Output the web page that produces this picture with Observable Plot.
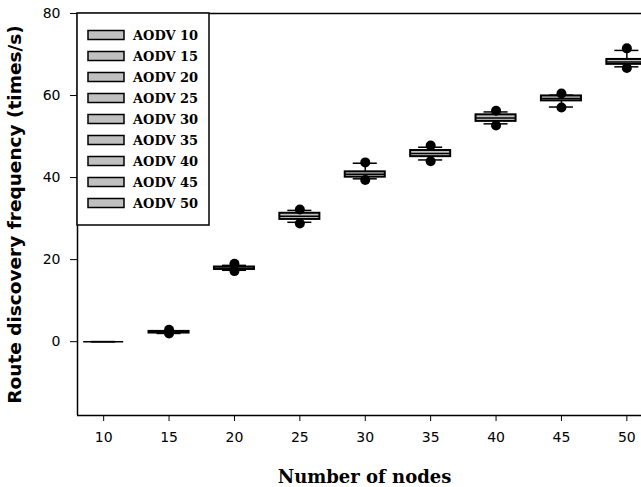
<!DOCTYPE html>
<html>
<head>
<meta charset="utf-8">
<script src="https://cdn.jsdelivr.net/npm/d3@7"></script>
<script src="https://cdn.jsdelivr.net/npm/@observablehq/plot@0.6"></script>
<style>
  html, body { margin: 0; padding: 0; background: #fff; }
  #chart svg { display: block; }
</style>
</head>
<body>
<div id="chart"></div>
<script>
// Data
const nodes      = [10, 15, 20, 25, 30, 35, 40, 45, 50];
const whiskerLo  = [0, 2.0, 17.4, 29.1, 39.7, 44.3, 53.1, 57.2, 67.0];
const q1         = [0, 2.1, 17.6, 29.8, 40.1, 45.1, 53.7, 58.7, 67.6];
const median     = [0, 2.3, 17.9, 30.6, 40.8, 45.9, 54.5, 59.3, 68.2];
const q3         = [0, 2.5, 18.2, 31.3, 41.4, 46.6, 55.3, 59.9, 68.8];
const whiskerHi  = [0, 2.6, 18.6, 32.0, 43.5, 47.4, 56.0, 60.1, 71.0];
const outlierLo  = [null, 2.0, 17.2, 28.8, 39.4, 44.0, 52.7, 57.1, 66.7];
const outlierHi  = [null, 2.9, 19.0, 32.2, 43.7, 47.8, 56.3, 60.5, 71.5];
const legendLabels = ["AODV 10", "AODV 15", "AODV 20", "AODV 25", "AODV 30", "AODV 35", "AODV 40", "AODV 45", "AODV 50"];
const yTicks = [0, 20, 40, 60, 80];
const xTicks = [10, 15, 20, 25, 30, 35, 40, 45, 50];
const yLabel = "Route discovery frequency (times/s)";
const xLabel = "Number of nodes";

const boxes = nodes.map((n, i) => ({
  n, wlo: whiskerLo[i], q1: q1[i], med: median[i], q3: q3[i], whi: whiskerHi[i]
}));
const outliers = [];
nodes.forEach((n, i) => {
  if (outlierLo[i] != null) outliers.push({n, v: outlierLo[i]});
  if (outlierHi[i] != null) outliers.push({n, v: outlierHi[i]});
});

const boxHalf = 1.53;
const capHalf = 0.92;

const plot = Plot.plot({
  width: 641,
  height: 487,
  marginLeft: 77,
  marginRight: 0,
  marginTop: 13,
  marginBottom: 72,
  style: { fontFamily: "'DejaVu Sans', sans-serif", fontSize: "14px", color: "#000", background: "#fff" },
  x: { domain: [8, 51.12] },
  y: { domain: [-18, 80] },
  marks: [
    Plot.axisY({ ticks: yTicks, tickSize: 7, tickPadding: 10, label: null, fontSize: 14, tickFormat: d => String(d) }),
    Plot.axisX({ ticks: xTicks, tickSize: 6, tickPadding: 11, label: null, fontSize: 14, tickFormat: d => String(d) }),
    // frame lines (left, bottom, top)
    Plot.ruleX([8], { stroke: "black", strokeWidth: 1.5 }),
    Plot.ruleY([-18, 80], { stroke: "black", strokeWidth: 1.5 }),
    // whiskers
    Plot.ruleX(boxes, { x: "n", y1: "q3", y2: "whi", stroke: "black", strokeWidth: 1.5 }),
    Plot.ruleX(boxes, { x: "n", y1: "wlo", y2: "q1", stroke: "black", strokeWidth: 1.5 }),
    Plot.ruleY(boxes, { y: "whi", x1: d => d.n - capHalf, x2: d => d.n + capHalf, stroke: "black", strokeWidth: 1.5 }),
    Plot.ruleY(boxes, { y: "wlo", x1: d => d.n - capHalf, x2: d => d.n + capHalf, stroke: "black", strokeWidth: 1.5 }),
    // boxes
    Plot.rect(boxes, { x1: d => d.n - boxHalf, x2: d => d.n + boxHalf, y1: "q1", y2: "q3", fill: "#c0c0c0", stroke: "black", strokeWidth: 2 }),
    Plot.ruleY(boxes, { y: "med", x1: d => d.n - boxHalf, x2: d => d.n + boxHalf, stroke: "black", strokeWidth: 1.5 }),
    // outliers
    Plot.dot(outliers, { x: "n", y: "v", r: 5, fill: "black", stroke: "none" }),
    // axis titles
    Plot.text([yLabel], { frameAnchor: "left", dx: -62, rotate: -90, textAnchor: "middle", fontSize: 18.5, fontWeight: "bold", fontFamily: "'DejaVu Sans', sans-serif", fill: "black" }),
    Plot.text([xLabel], { frameAnchor: "bottom", dy: 67, dx: 5, textAnchor: "middle", fontSize: 18, fontWeight: "bold", fontFamily: "'DejaVu Serif', serif", fill: "black" })
  ]
});

// Legend inside plot area (top-left)
const svg = d3.select(plot);
const lg = svg.append("g").attr("class", "legend").attr("text-anchor", "start");
lg.append("rect").attr("x", 77).attr("y", 13).attr("width", 132).attr("height", 212)
  .attr("fill", "white").attr("stroke", "black").attr("stroke-width", 1.5);
legendLabels.forEach((lab, i) => {
  const cy = 35 + 21 * i;
  lg.append("rect").attr("x", 88).attr("y", cy - 4.5).attr("width", 36).attr("height", 9)
    .attr("fill", "#c0c0c0").attr("stroke", "black").attr("stroke-width", 1.5);
  lg.append("text").attr("x", 133).attr("y", cy + 4.8).text(lab)
    .attr("text-anchor", "start")
    .attr("font-family", "'DejaVu Serif', serif").attr("font-weight", "bold").attr("font-size", 13)
    .attr("fill", "black");
});

document.getElementById("chart").appendChild(plot);
</script>
</body>
</html>
